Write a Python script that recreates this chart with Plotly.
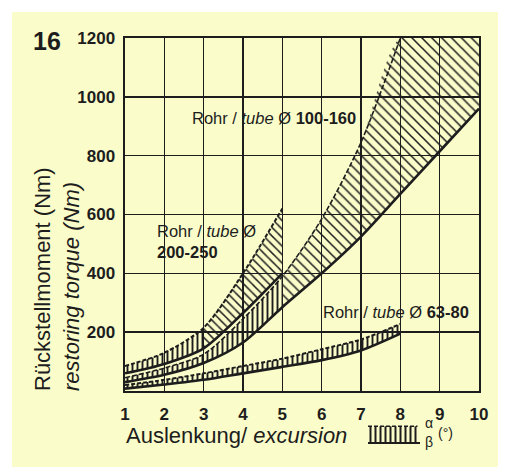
import plotly.graph_objects as go

# ---------------- data ----------------
x_a = [1, 2, 3, 4, 5]                       # Rohr / tube Ø 200-250
a_upper = [85, 130, 215, 400, 620]
a_lower = [60, 92, 145, 265, 400]

x_b = [1, 2, 3, 4, 5, 6, 7, 8, 9, 10]       # Rohr / tube Ø 100-160
b_upper = [45, 78, 125, 245, 390, 585, 845, 1200]   # leaves the chart top at x=8
b_lower = [30, 55, 95, 165, 285, 400, 525, 670, 815, 960]

x_c = [1, 2, 3, 4, 5, 6, 7, 8]              # Rohr / tube Ø 63-80
c_upper = [20, 38, 60, 85, 110, 142, 175, 228]
c_lower = [8, 22, 38, 60, 82, 105, 138, 195]

x_ticks = [1, 2, 3, 4, 5, 6, 7, 8, 9, 10]
y_ticks = [200, 400, 600, 800, 1000, 1200]
X_RANGE = [1, 10]
Y_RANGE = [0, 1200]

# ---------------- styling ----------------
W, H = 507, 467
BG = "#FAFCCA"
INK = "#1d1d1d"
FONT = "Liberation Sans, Arial, Helvetica, sans-serif"
PL, PR, PT, PB = 125, 479, 38, 391   # plot area in pixels


def fx(p):
    return p / W


def fy(p):
    return 1 - p / H


fig = go.Figure()


def band(xs, up, lo, i0, i1, shape, size, solidity):
    xs_ = xs[i0:i1 + 1]
    fig.add_trace(go.Scatter(x=xs_, y=lo[i0:i1 + 1], mode="lines",
                             line=dict(width=0, shape="spline", smoothing=0.8),
                             hoverinfo="skip", showlegend=False))
    fig.add_trace(go.Scatter(x=xs_, y=up[i0:i1 + 1], mode="lines",
                             line=dict(width=0, shape="spline", smoothing=0.8),
                             fill="tonexty", fillcolor="rgba(0,0,0,0)",
                             fillpattern=dict(shape=shape, fgcolor=INK,
                                              bgcolor="rgba(0,0,0,0)",
                                              size=size, solidity=solidity),
                             hoverinfo="skip", showlegend=False))


# upper edge of 100-160 clipped at chart top beyond x=8
b_upper_full = b_upper + [Y_RANGE[1]] * (len(x_b) - len(b_upper))

band(x_c, c_upper, c_lower, 0, len(x_c) - 1, "|", 5, 0.38)
band(x_b, b_upper_full, b_lower, 0, 4, "|", 5, 0.38)
band(x_b, b_upper_full, b_lower, 4, 9, "\\", 7, 0.22)
band(x_a, a_upper, a_lower, 0, 2, "|", 5, 0.38)
band(x_a, a_upper, a_lower, 2, 4, "\\", 6, 0.25)


def edge(xs, ys, width, dash="solid"):
    fig.add_trace(go.Scatter(x=xs, y=ys, mode="lines",
                             line=dict(color=INK, width=width, dash=dash,
                                       shape="spline", smoothing=0.8),
                             hoverinfo="skip", showlegend=False))


edge(x_c, c_upper, 2, "4px,2px")
edge(x_c, c_lower, 2.6)
edge(x_b[:len(b_upper)], b_upper, 1.6, "5px,2px")
edge(x_b, b_lower, 2.6)
edge(x_a, a_upper, 2, "4px,2px")
edge(x_a, a_lower, 2.6)

# legend glyph (hatched sample) on its own tiny axes
fig.add_trace(go.Scatter(x=[0, 1], y=[0.1, 0.1], mode="lines", line=dict(width=0),
                         xaxis="x2", yaxis="y2", hoverinfo="skip", showlegend=False))
fig.add_trace(go.Scatter(x=[0, 1], y=[0.85, 0.85], mode="lines", line=dict(width=0),
                         fill="tonexty", fillcolor="rgba(0,0,0,0)",
                         fillpattern=dict(shape="|", fgcolor=INK, bgcolor="rgba(0,0,0,0)",
                                          size=5, solidity=0.4),
                         xaxis="x2", yaxis="y2", hoverinfo="skip", showlegend=False))
fig.add_trace(go.Scatter(x=[0, 1], y=[0.85, 0.85], mode="lines",
                         line=dict(color=INK, width=1.5, dash="4px,2px"),
                         xaxis="x2", yaxis="y2", hoverinfo="skip", showlegend=False))
fig.add_trace(go.Scatter(x=[0, 1.05], y=[0.05, 0.05], mode="lines",
                         line=dict(color=INK, width=2),
                         xaxis="x2", yaxis="y2", hoverinfo="skip", showlegend=False))

axis_common = dict(showgrid=True, gridcolor=INK, gridwidth=1.6,
                   showline=True, linecolor=INK, linewidth=2.4, mirror=True,
                   zeroline=False, ticks="", fixedrange=True, automargin=False,
                   tickfont=dict(family=FONT, size=17, color=INK, weight="bold"))

fig.update_layout(
    template="none",
    width=W, height=H,
    margin=dict(l=0, r=0, t=0, b=0, pad=0, autoexpand=False),
    paper_bgcolor=BG, plot_bgcolor=BG,
    showlegend=False,
    xaxis=dict(domain=[fx(PL), fx(PR)], range=X_RANGE, tickvals=x_ticks,
               ticklabelstandoff=6, **axis_common),
    yaxis=dict(domain=[fy(PB), fy(PT)], range=Y_RANGE, tickvals=y_ticks,
               ticklabelstandoff=4, **axis_common),
    xaxis2=dict(domain=[fx(368), fx(420)], range=[0, 1.05], visible=False,
                anchor="y2", fixedrange=True, automargin=False),
    yaxis2=dict(domain=[fy(444), fy(423)], range=[0, 1], visible=False,
                anchor="x2", fixedrange=True, automargin=False),
    shapes=[
        dict(type="rect", xref="paper", yref="paper", x0=0, x1=1, y0=fy(12), y1=1,
             fillcolor="white", line=dict(width=0), layer="below"),
        dict(type="rect", xref="paper", yref="paper", x0=0, x1=fx(12), y0=0, y1=1,
             fillcolor="white", line=dict(width=0), layer="below"),
        dict(type="rect", xref="paper", yref="paper", x0=fx(498), x1=1, y0=0, y1=1,
             fillcolor="white", line=dict(width=0), layer="below"),
    ],
)


def note(text, x, y, size, xanchor="center", yanchor="middle", align="center", angle=0):
    return dict(text=text, x=fx(x), y=fy(y), xref="paper", yref="paper",
                xanchor=xanchor, yanchor=yanchor, align=align, textangle=angle,
                showarrow=False, font=dict(family=FONT, size=size, color=INK))


ann = [
    note("<b>16</b>", 47, 41, 25),
    note("Rückstellmoment (Nm)<br><i>restoring torque (Nm)</i>", 57, 393, 22,
         yanchor="bottom", align="left", angle=-90),
    note("Auslenkung/ <i>excursion</i>", 124, 435, 22, xanchor="left"),
    note("α", 429, 423, 14),
    note("β", 429, 442, 14),
    note("(°)", 436, 433, 14, xanchor="left"),
    note("Rohr / <i>tube</i> Ø <b>100-160</b>", 190, 118, 16.5, xanchor="left"),
    note("Rohr / <i>tube</i> Ø<br><b>200-250</b>", 155, 241, 16.5, xanchor="left", align="left"),
    note("Rohr / <i>tube</i> Ø <b>63-80</b>", 321, 312, 16.5, xanchor="left"),
]
fig.update_layout(annotations=ann)

fig.write_html("out.html",
               config={"displayModeBar": False, "staticPlot": True},
               post_script="document.body.style.margin='0';document.body.style.overflow='hidden';")
